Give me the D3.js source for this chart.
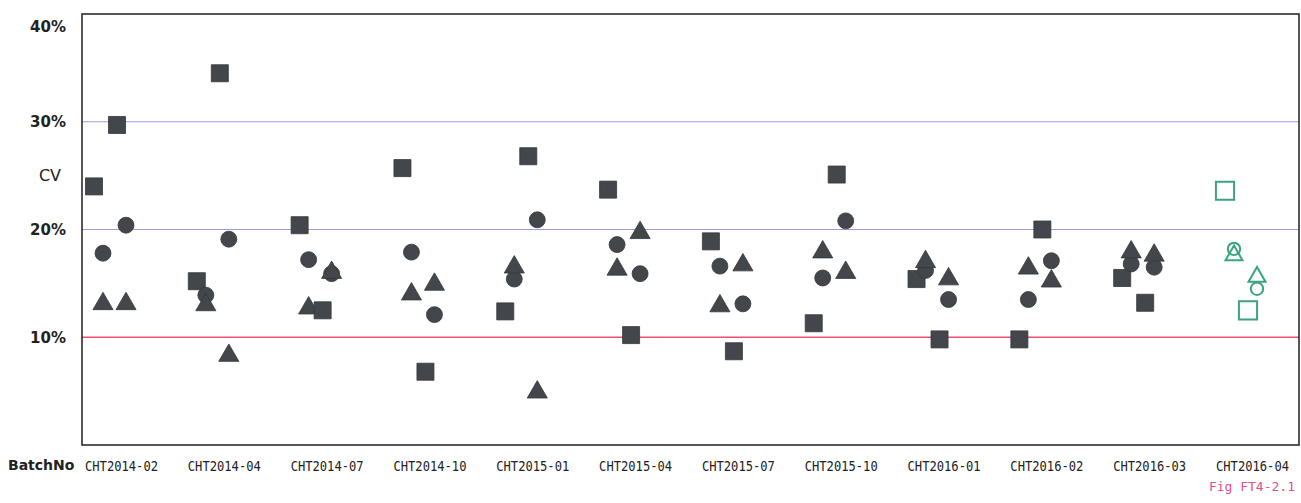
<!DOCTYPE html>
<html>
<head>
<meta charset="utf-8">
<script src="https://cdn.jsdelivr.net/npm/d3@7"></script>
<style>
  body { margin: 0; background: #fff; }
  svg { display: block; }
</style>
</head>
<body>
<div id="display"></div>
<script>
// batches on the x axis
let batches = ['CHT2014-02', 'CHT2014-04', 'CHT2014-07', 'CHT2014-10', 'CHT2015-01', 'CHT2015-04',
    'CHT2015-07', 'CHT2015-10', 'CHT2016-01', 'CHT2016-02', 'CHT2016-03', 'CHT2016-04'];

// CV values (%), two sets of three markers per batch
let squareA   = [24.0, 15.2, 20.4, 25.7, 12.4, 23.7, 18.9, 11.3, 15.4,  9.8, 15.5, 23.6];
let circleA   = [17.8, 13.9, 17.2, 17.9, 15.4, 18.6, 16.6, 15.5, 16.2, 13.5, 16.8, 18.2];
let triangleA = [13.1, 13.0, 12.7, 14.0, 16.5, 16.3, 12.9, 17.9, 17.0, 16.4, 17.9, 17.6];
let squareB   = [29.7, 34.5, 12.5,  6.8, 26.8, 10.2,  8.7, 25.1,  9.8, 20.0, 13.2, 12.5];
let circleB   = [20.4, 19.1, 15.9, 12.1, 20.9, 15.9, 13.1, 20.8, 13.5, 17.1, 16.5, 14.5];
let triangleB = [13.1,  8.3, 16.0, 14.9,  4.9, 19.7, 16.7, 16.0, 15.4, 15.2, 17.6, 15.6];

// y ticks
let yTicks = [10, 20, 30, 40];
let limitLine = 10;
let currentBatch = 'CHT2016-04';

let width = 1301, height = 503;
let plot = {left: 82, right: 1299, top: 14, bottom: 445};

let svg = d3.select('#display')
    .append('svg')
        .attr('width', width)
        .attr('height', height);

// scales
let x = d3.scalePoint()
    .domain(batches)
    .range([110, 1241]);

let y = d3.scaleLinear()
    .domain([0, 40])
    .range([plot.bottom, plot.top]);

// series: value array, symbol, offset inside the batch
let series = [
    {values: squareA,   symbol: d3.symbolSquare,   dx: -16},
    {values: circleA,   symbol: d3.symbolCircle,   dx: -7},
    {values: triangleA, symbol: d3.symbolTriangle, dx: -7},
    {values: squareB,   symbol: d3.symbolSquare,   dx: 7},
    {values: circleB,   symbol: d3.symbolCircle,   dx: 16},
    {values: triangleB, symbol: d3.symbolTriangle, dx: 16}
];

let symbolSize = new Map([
    [d3.symbolSquare, 290],
    [d3.symbolCircle, 200],
    [d3.symbolTriangle, 175]
]);
let openSize = new Map([
    [d3.symbolSquare, 330],
    [d3.symbolCircle, 120],
    [d3.symbolTriangle, 125]
]);

// grid lines
svg.append('g')
    .selectAll('line')
    .data(yTicks.filter(d => d > limitLine && d < 40))
    .enter()
    .append('line')
        .attr('x1', plot.left)
        .attr('x2', plot.right)
        .attr('y1', d => y(d))
        .attr('y2', d => y(d))
        .style('stroke', '#9c9ce0')
        .style('stroke-width', 1.2);

// 10% line
svg.append('line')
    .attr('x1', plot.left)
    .attr('x2', plot.right)
    .attr('y1', y(limitLine))
    .attr('y2', y(limitLine))
    .style('stroke', '#ec5070')
    .style('stroke-width', 1.5);

// frame
svg.append('rect')
    .attr('x', plot.left)
    .attr('y', plot.top)
    .attr('width', plot.right - plot.left)
    .attr('height', plot.bottom - plot.top)
    .style('fill', 'none')
    .style('stroke', '#2c2c30')
    .style('stroke-width', 1.6);

// y labels
svg.append('g')
    .selectAll('text')
    .data(yTicks)
    .enter()
    .append('text')
        .attr('x', 66)
        .attr('y', d => Math.max(y(d), plot.top + 13))
        .attr('dy', '0.36em')
        .attr('text-anchor', 'end')
        .style('font-family', 'DejaVu Sans, sans-serif')
        .style('font-size', '15px')
        .style('font-weight', 'bold')
        .style('fill', '#222')
        .text(d => d + '%');

svg.append('text')
    .attr('x', 61)
    .attr('y', y(25))
    .attr('dy', '0.36em')
    .attr('text-anchor', 'end')
    .style('font-family', 'DejaVu Sans, sans-serif')
    .style('font-size', '16px')
    .style('fill', '#222')
    .text('CV');

// x labels
svg.append('text')
    .attr('x', 8)
    .attr('y', 470)
    .style('font-family', 'DejaVu Sans, sans-serif')
    .style('font-size', '14px')
    .style('font-weight', 'bold')
    .style('fill', '#222')
    .text('BatchNo');

svg.append('g')
    .selectAll('text')
    .data(batches)
    .enter()
    .append('text')
        .attr('x', d => x(d) - 25)
        .attr('y', 471)
        .attr('textLength', 73)
        .attr('lengthAdjust', 'spacingAndGlyphs')
        .style('font-family', 'DejaVu Sans Mono, monospace')
        .style('font-size', '13.5px')
        .style('fill', '#222')
        .text(d => d);

// markers
series.forEach(s => {
    svg.append('g')
        .selectAll('path')
        .data(batches.map((b, i) => ({batch: b, value: s.values[i]})))
        .enter()
        .append('path')
            .attr('transform', d => 'translate(' + (x(d.batch) + s.dx) + ',' + y(d.value) + ')')
            .attr('d', d => {
                let size = d.batch === currentBatch ? openSize.get(s.symbol) : symbolSize.get(s.symbol);
                return d3.symbol().type(s.symbol).size(size)();
            })
            .style('fill', d => d.batch === currentBatch ? 'none' : '#43474c')
            .style('stroke', d => d.batch === currentBatch ? '#3aa57c' : '#34373b')
            .style('stroke-width', d => d.batch === currentBatch ? 2 : 0.8);
});

// figure caption
svg.append('text')
    .attr('x', 1295)
    .attr('y', 491)
    .attr('text-anchor', 'end')
    .style('font-family', 'DejaVu Sans Mono, monospace')
    .style('font-size', '13px')
    .style('fill', '#e0508a')
    .text('Fig FT4-2.1');
</script>
</body>
</html>
